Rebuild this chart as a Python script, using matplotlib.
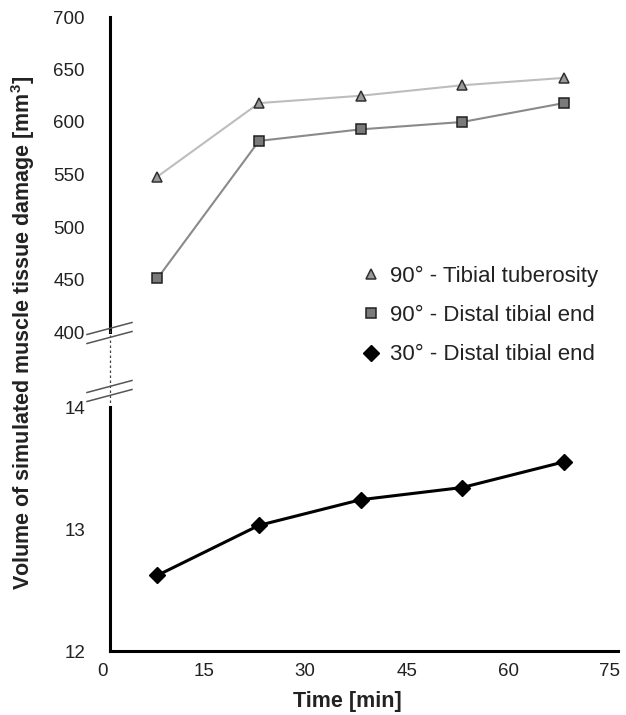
import matplotlib
matplotlib.use("Agg")
import matplotlib.pyplot as plt
import matplotlib.transforms as mtransforms
from matplotlib.lines import Line2D

plt.rcParams['font.family'] = ['Liberation Sans', 'DejaVu Sans']

# data
time_min = [7, 22, 37, 52, 67]
tuberosity_90 = [548, 618, 625, 635, 642]
distal_90 = [451, 582, 593, 600, 618]
distal_30 = [12.62, 13.03, 13.24, 13.34, 13.55]

labels = ['90° - Tibial tuberosity', '90° - Distal tibial end', '30° - Distal tibial end']
xticks = [0, 15, 30, 45, 60, 75]
upper_ticks = [400, 450, 500, 550, 600, 650, 700]
lower_ticks = [12, 13, 14]

W, H = 626, 715
fig = plt.figure(figsize=(W / 100, H / 100), dpi=100)

left = 110 / W
right = 618 / W
ax_top = fig.add_axes([left, 1 - 332 / H, right - left, (332 - 17) / H])
ax_bot = fig.add_axes([left, 1 - 651 / H, right - left, (651 - 407) / H])

# upper part (90 deg)
ax_top.plot(time_min, tuberosity_90, color='#bdbdbd', lw=1.5, marker='^', ms=6.5,
            mfc='#9a9a9a', mec='#303030', mew=1.1, zorder=3)
ax_top.plot(time_min, distal_90, color='#8a8a8a', lw=1.5, marker='s', ms=6.5,
            mfc='#7a7a7a', mec='#202020', mew=1.1, zorder=3)
ax_top.set_ylim(400, 700)
ax_top.set_yticks(upper_ticks)
ax_top.set_xlim(0, 75)
ax_top.set_xticks([])
for s in ['top', 'right', 'bottom']:
    ax_top.spines[s].set_visible(False)

# lower part (30 deg)
ax_bot.plot(time_min, distal_30, color='black', lw=2.2, marker='D', ms=8,
            mfc='black', mec='black', zorder=3)
ax_bot.set_ylim(12, 14)
ax_bot.set_yticks(lower_ticks)
ax_bot.set_xlim(0, 75)
ax_bot.set_xticks(xticks)
for s in ['top', 'right']:
    ax_bot.spines[s].set_visible(False)

for ax in (ax_top, ax_bot):
    ax.patch.set_alpha(0)
    for s in ax.spines.values():
        s.set_linewidth(2.2)
        s.set_color('black')
    ax.tick_params(length=0, labelsize=13.5, colors='#222222')
    ax.tick_params(axis='y', pad=18)
ax_bot.tick_params(axis='x', pad=9)

# x tick labels sit a bit left of their positions in the original
shift = mtransforms.ScaledTranslation(-8 / 100, 0, fig.dpi_scale_trans)
for lab in ax_bot.get_xticklabels():
    lab.set_transform(lab.get_transform() + shift)

# dotted connection between the two axis parts and the break marks
fig.add_artist(Line2D([left, left], [1 - 330 / H, 1 - 405 / H], transform=fig.transFigure,
                      color='#444444', lw=0.9, ls=(0, (2, 2))))
for yc in (333, 391):
    for dy in (-4.5, 4.5):
        x0, x1 = 87 / W, 132 / W
        y0 = 1 - (yc + dy + 6) / H
        y1 = 1 - (yc + dy - 6) / H
        fig.add_artist(Line2D([x0, x1], [y0, y1], transform=fig.transFigure,
                              color='#555555', lw=1.1))

# legend
handles = [
    Line2D([], [], ls='none', marker='^', ms=6.5, mfc='#9a9a9a', mec='#303030', mew=1.1),
    Line2D([], [], ls='none', marker='s', ms=6.5, mfc='#7a7a7a', mec='#202020', mew=1.1),
    Line2D([], [], ls='none', marker='D', ms=8, mfc='black', mec='black'),
]
fig.legend(handles, labels, loc='upper left', bbox_to_anchor=(351 / W, 1 - 257 / H),
           frameon=False, fontsize=16, handlelength=1.0, handletextpad=0.35,
           labelspacing=0.82, borderaxespad=0, labelcolor='#222222')

fig.text(23 / W, 1 - 333 / H, 'Volume of simulated muscle tissue damage [mm$^\\mathregular{3}$]',
         rotation=90, ha='center', va='center', fontsize=15.5, fontweight='bold', color='#222222')
fig.text(347 / W, 1 - 702 / H, 'Time [min]', ha='center', va='center',
         fontsize=15.5, fontweight='bold', color='#222222')

fig.savefig('out.png', dpi=100)
